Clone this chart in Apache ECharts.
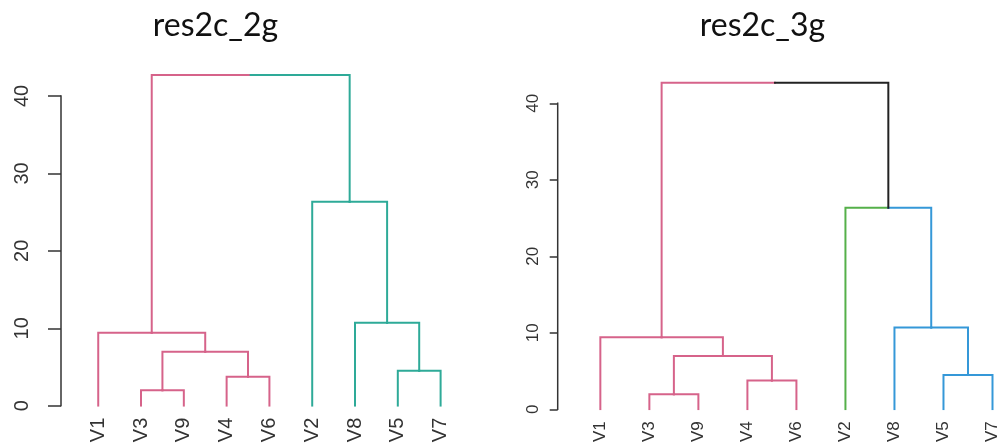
<!DOCTYPE html>
<html>
<head>
<meta charset="utf-8">
<script src="https://cdn.jsdelivr.net/npm/echarts@6/dist/echarts.min.js"></script>
<style>html,body{margin:0;padding:0;background:#fff;}#c{width:1001px;height:448px;}</style>
</head>
<body>
<div id="c"></div>
<script>
// ---- data ----
const titles = ['res2c_2g', 'res2c_3g'];
const leafLabels = ['V1', 'V3', 'V9', 'V4', 'V6', 'V2', 'V8', 'V5', 'V7'];
// R-style merge matrix: negative = leaf (position in leafLabels), positive = earlier merge
const mergeA = [-2, -4, -8, 1, -1, -7, -6, 5];
const mergeB = [-3, -5, -9, 2, 4, 3, 6, 7];
const mergeHeights = [1.98, 3.75, 4.5, 6.98, 9.43, 10.7, 26.35, 42.7];
const clusters2g = [1, 1, 1, 1, 1, 2, 2, 2, 2];
const clusters3g = [1, 1, 1, 1, 1, 2, 3, 3, 3];
const colors2g = ['#D6638A', '#2EAA98'];
const colors3g = ['#D6638A', '#55B04A', '#3598D8'];
const yTicks = [0, 10, 20, 30, 40];

// ---- helpers ----
function buildBranches(clusters, palette) {
  const nodes = {};
  function get(ref) {
    if (ref < 0) { const i = -ref; return {x: i, h: 0, leaves: [i - 1]}; }
    return nodes[ref];
  }
  const branches = [];
  function colorOf(n) {
    const c = clusters[n.leaves[0]];
    return n.leaves.every(l => clusters[l] === c) ? palette[c - 1] : '#222';
  }
  for (let k = 0; k < mergeA.length; k++) {
    const a = get(mergeA[k]), b = get(mergeB[k]);
    const h = mergeHeights[k];
    const x = (a.x + b.x) / 2;
    nodes[k + 1] = {x: x, h: h, leaves: a.leaves.concat(b.leaves)};
    [a, b].forEach(ch => {
      branches.push({coords: [[ch.x, ch.h], [ch.x, h], [x, h]], lineStyle: {color: colorOf(ch)}});
    });
  }
  return branches;
}

const xMin = 0.13;
const panels = [
  {grid: {left: 61, top: 65, width: 401, height: 340.7}, xMax: 9.5, clusters: clusters2g, palette: colors2g,
   tickLen: 13, yFont: 20, yMargin: 29, xFont: 20, titleX: 210.5},
  {grid: {left: 557.7, top: 72.7, width: 443, height: 336.6}, xMax: 9.1, clusters: clusters3g, palette: colors3g,
   tickLen: 8, yFont: 17, yMargin: 16, xFont: 17, titleX: 757.5}
];

const option = {
  animation: false,
  backgroundColor: '#fff',
  title: panels.map((p, i) => ({
    text: titles[i], left: p.titleX, top: 5, textAlign: 'center',
    textStyle: {fontFamily: 'Lato', fontWeight: 'normal', fontSize: 32, color: '#111'}
  })),
  grid: panels.map(p => Object.assign({containLabel: false}, p.grid)),
  xAxis: panels.map((p, i) => ({
    type: 'value', gridIndex: i, min: xMin, max: p.xMax,
    axisLine: {show: false}, axisTick: {show: false}, splitLine: {show: false},
    axisLabel: {
      customValues: leafLabels.map((_, j) => j + 1),
      formatter: v => leafLabels[Math.round(v) - 1],
      rotate: 90, margin: 12, fontFamily: 'Liberation Sans', fontSize: p.xFont, color: '#333'
    }
  })),
  yAxis: panels.map((p, i) => ({
    type: 'value', gridIndex: i, min: 0, max: 44,
    axisLine: {show: false}, splitLine: {show: false},
    axisTick: {show: true, customValues: yTicks, length: p.tickLen, lineStyle: {color: '#333', width: 1.5}},
    axisLabel: {customValues: yTicks, rotate: 90, margin: p.yMargin, fontFamily: 'Liberation Sans', fontSize: p.yFont, color: '#333'}
  })),
  series: panels.map((p, i) => ({
    type: 'lines', coordinateSystem: 'cartesian2d', xAxisIndex: i, yAxisIndex: i,
    polyline: true, silent: true,
    lineStyle: {width: 2, opacity: 1, cap: 'square'},
    data: buildBranches(p.clusters, p.palette).concat([
      {coords: [[xMin, yTicks[0]], [xMin, yTicks[yTicks.length - 1]]], lineStyle: {color: '#333', width: 1.5}}
    ])
  }))
};

const chart = echarts.init(document.getElementById('c'), null, {renderer: 'canvas'});
chart.setOption(option);
</script>
</body>
</html>
